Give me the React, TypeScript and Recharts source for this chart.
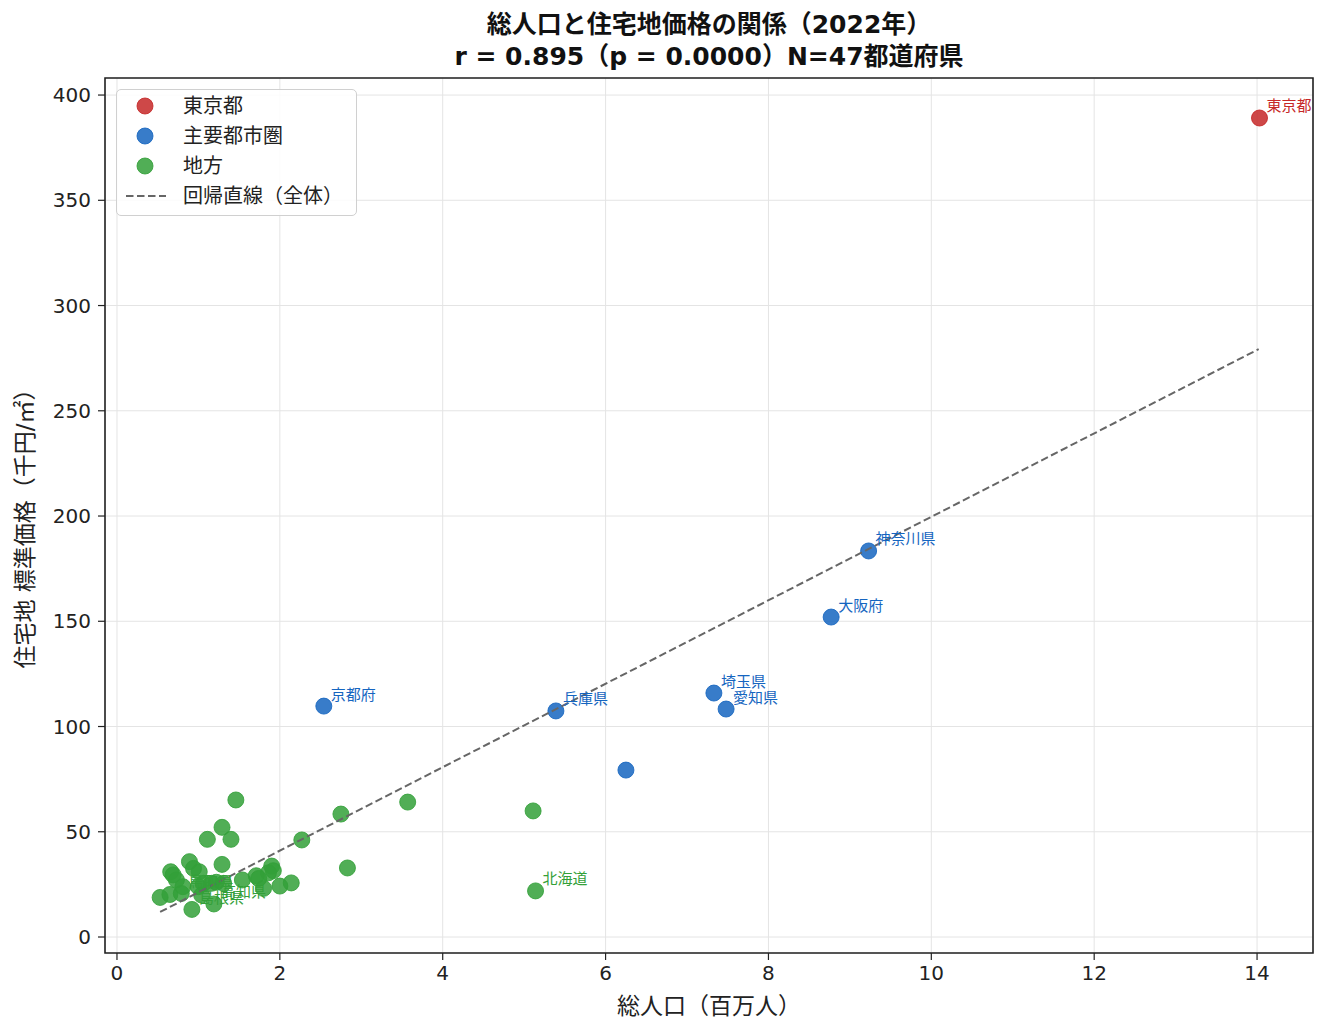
import React from 'react';
import { ScatterChart, Scatter, XAxis, YAxis, CartesianGrid, ReferenceArea } from 'recharts';

const FONT = "'Liberation Sans', 'Noto Sans CJK JP', sans-serif";
const WIDE = "'DejaVu Sans', 'Noto Sans CJK JP', sans-serif";

// 東京都
const tokyoNames = ['東京都'];
const tokyoPop = [14.03];
const tokyoPrice = [389.1];

// 主要都市圏 (千葉県 has no label in the original)
const metroNames = ['神奈川県', '大阪府', '埼玉県', '愛知県', '兵庫県', '京都府', ''];
const metroPop = [9.23, 8.77, 7.33, 7.48, 5.39, 2.54, 6.25];
const metroPrice = [183.4, 152.0, 115.9, 108.3, 107.4, 109.7, 79.3];

// 地方
const regionalNames = [
    '北海道', '', '', '', '', '', '', '', '', '', '', '', '', '', '', '', '', '', '', '',
    '', '', '', '', '', '', '', '', '', '', '', '鳥取県', '', '島根県', '高知県', '', '', '',
];
const regionalPop = [
    5.14, 5.11, 3.57, 2.75, 2.83, 2.27, 2.14, 1.46, 1.29, 1.11, 1.40, 0.89, 1.29, 1.01, 0.94, 0.66, 0.69, 1.90, 1.92,
    1.86, 1.71, 1.74, 1.54, 2.00, 1.80, 1.31, 1.16, 1.06, 1.00, 0.53, 0.65, 0.79, 1.04, 0.92, 1.19, 0.73, 0.81, 1.22,
];
const regionalPrice = [
    21.9, 59.9, 64.1, 58.4, 32.8, 46.1, 25.7, 65.1, 52.1, 46.4, 46.4, 35.8, 34.5, 31.0, 32.6, 31.0, 29.5, 33.7, 31.5,
    30.5, 29.1, 27.8, 27.1, 24.2, 23.1, 25.5, 25.5, 25.5, 23.9, 18.8, 20.2, 20.7, 19.9, 13.1, 15.7, 27.1, 23.9, 26.0,
];

// 回帰直線（全体）end points
const regPop = [0.53, 14.02];
const regPrice = [11.9, 279.3];

const xTicks = [0, 2, 4, 6, 8, 10, 12, 14];
const yTicks = [0, 50, 100, 150, 200, 250, 300, 350, 400];
const xDomain = [-0.147, 14.687];
const yDomain = [-7.6, 408.1];

const RED = '#c62828';
const BLUE = '#1565c0';
const GREEN = '#33a038';

const build = (names: string[], xs: number[], ys: number[], color: string) =>
    xs.map((x, i) => ({ pop: x, price: ys[i], name: names[i], color }));

const tokyo = build(tokyoNames, tokyoPop, tokyoPrice, RED);
const metro = build(metroNames, metroPop, metroPrice, BLUE);
const regional = build(regionalNames, regionalPop, regionalPrice, GREEN);
const regLine = regPop.map((x, i) => ({ pop: x, price: regPrice[i] }));
const labelled = [...regional, ...metro, ...tokyo].filter((d) => d.name);

const Dot = (color: string) => (props: any) => (
    <circle
        cx={props.cx}
        cy={props.cy}
        r={8}
        fill={color}
        fillOpacity={0.85}
        stroke={color}
        strokeOpacity={0.85}
        strokeWidth={1}
    />
);

const NameTag = (props: any) => (
    <text
        x={props.cx + 7}
        y={props.cy - 12}
        fill={props.payload.color}
        fontSize={15}
        fontFamily={FONT}
        dominantBaseline="central"
    >
        {props.payload.name}
    </text>
);

const tickStyle = { fontSize: 20, fill: '#222', fontFamily: WIDE };

const LegendBox = () => {
    const rows = [
        { label: '東京都', color: RED },
        { label: '主要都市圏', color: BLUE },
        { label: '地方', color: GREEN },
        { label: '回帰直線（全体）', color: '' },
    ];
    return (
        <div
            style={{
                position: 'absolute', left: 116, top: 89, width: 241, height: 127, boxSizing: 'border-box',
                border: '1px solid #d0d0d0', borderRadius: 5, background: 'rgba(255,255,255,0.85)', fontFamily: FONT,
            }}
        >
            {rows.map((r, i) => (
                <div key={r.label} style={{ position: 'absolute', left: 0, top: 16 + i * 30 - 15, height: 30, width: 239 }}>
                    <svg width={50} height={30} style={{ position: 'absolute', left: 8, top: 0 }}>
                        {r.color ? (
                            <circle cx={20} cy={15} r={8} fill={r.color} fillOpacity={0.85} stroke={r.color} strokeOpacity={0.85} />
                        ) : (
                            <line x1={1} x2={41} y1={15} y2={15} stroke="#666" strokeWidth={2} strokeDasharray="7.5 3.5" />
                        )}
                    </svg>
                    <span style={{ position: 'absolute', left: 66, top: 0, lineHeight: '30px', fontSize: 20, color: '#222', whiteSpace: 'nowrap' }}>
                        {r.label}
                    </span>
                </div>
            ))}
        </div>
    );
};

const App = () => {
    return (
        <div style={{ position: 'absolute', left: 0, top: 0, width: 1329, height: 1035, background: '#fff', fontFamily: FONT }}>
            <ScatterChart width={1329} height={1035} margin={{ top: 78, right: 16, bottom: 0, left: 0 }}>
                <CartesianGrid stroke="#e4e4e4" strokeWidth={1} />
                <XAxis
                    type="number"
                    dataKey="pop"
                    domain={xDomain}
                    ticks={xTicks}
                    allowDataOverflow
                    height={82}
                    axisLine={false}
                    tickLine={{ stroke: '#222', strokeWidth: 1.2 }}
                    tickSize={7}
                    tickMargin={6}
                    tick={tickStyle}
                />
                <YAxis
                    type="number"
                    dataKey="price"
                    domain={yDomain}
                    ticks={yTicks}
                    allowDataOverflow
                    width={105}
                    axisLine={false}
                    tickLine={{ stroke: '#222', strokeWidth: 1.2 }}
                    tickSize={7}
                    tickMargin={7}
                    tick={tickStyle}
                />
                <ReferenceArea
                    x1={xDomain[0]}
                    x2={xDomain[1]}
                    y1={yDomain[0]}
                    y2={yDomain[1]}
                    fill="none"
                    stroke="#222"
                    strokeWidth={1.6}
                    ifOverflow="visible"
                />
                <Scatter data={regional} shape={Dot(GREEN)} isAnimationActive={false} />
                <Scatter data={metro} shape={Dot(BLUE)} isAnimationActive={false} />
                <Scatter data={tokyo} shape={Dot(RED)} isAnimationActive={false} />
                <Scatter
                    data={regLine}
                    line={{ stroke: '#666', strokeWidth: 2, strokeDasharray: '7.5 3.5' }}
                    lineType="joint"
                    shape={() => <g />}
                    isAnimationActive={false}
                />
                <Scatter data={labelled} shape={NameTag} isAnimationActive={false} />
            </ScatterChart>

            <div
                style={{
                    position: 'absolute', left: 105, top: 9, width: 1208, textAlign: 'center', fontWeight: 'bold',
                    fontSize: 25, lineHeight: '32px', color: '#111', whiteSpace: 'nowrap', fontFamily: WIDE,
                }}
            >
                <div>総人口と住宅地価格の関係（2022年）</div>
                <div>r = 0.895（p = 0.0000）N=47都道府県</div>
            </div>

            <div
                style={{
                    position: 'absolute', left: 709, top: 1006, transform: 'translate(-50%, -50%)', fontSize: 23,
                    lineHeight: 1, color: '#222', whiteSpace: 'nowrap',
                }}
            >
                総人口（百万人）
            </div>
            <div
                style={{
                    position: 'absolute', left: 25, top: 523, transform: 'translate(-50%, -50%) rotate(-90deg)', fontSize: 23,
                    lineHeight: 1, color: '#222', whiteSpace: 'nowrap', fontFamily: WIDE,
                }}
            >
                住宅地 標準価格（千円/㎡）
            </div>

            <LegendBox />
        </div>
    );
};

export default App;
